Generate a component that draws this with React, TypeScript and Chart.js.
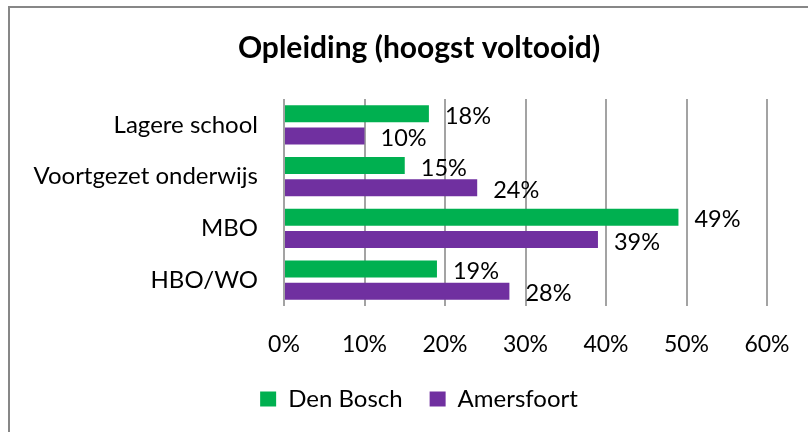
import React, { useEffect, useRef } from "react";
import { Chart, registerables } from "chart.js";

Chart.register(...registerables);

const categories = ["Lagere school", "Voortgezet onderwijs", "MBO", "HBO/WO"];
const denBosch = [18, 15, 49, 19];
const amersfoort = [10, 24, 39, 28];
const seriesNames = ["Den Bosch", "Amersfoort"];
const xTicks = [0, 10, 20, 30, 40, 50, 60];

const FONT = "Lato, 'Open Sans', sans-serif";
const GREEN = "#00B050";
const PURPLE = "#7030A0";
const GRID = "#a3a3a3";

// Writes each bar's percentage just past the bar's end.
const valueLabels = {
  id: "valueLabels",
  afterDatasetsDraw(chart: any) {
    const ctx = chart.ctx;
    ctx.save();
    ctx.font = `23.5px ${FONT}`;
    ctx.fillStyle = "#000";
    ctx.textAlign = "left";
    ctx.textBaseline = "middle";
    chart.data.datasets.forEach((ds: any, di: number) => {
      const meta = chart.getDatasetMeta(di);
      meta.data.forEach((bar: any, i: number) => {
        ctx.fillText(`${ds.data[i]}%`, bar.x + 16, bar.y + 2.5);
      });
    });
    ctx.restore();
  },
};

export default function App() {
  const ref = useRef<HTMLCanvasElement>(null);

  useEffect(() => {
    if (!ref.current) return;
    const chart = new Chart(ref.current, {
      type: "bar",
      data: {
        labels: categories,
        datasets: [
          {
            label: seriesNames[0],
            data: denBosch,
            backgroundColor: GREEN,
            categoryPercentage: 0.854,
            barPercentage: 0.773,
          },
          {
            label: seriesNames[1],
            data: amersfoort,
            backgroundColor: PURPLE,
            categoryPercentage: 0.854,
            barPercentage: 0.773,
          },
        ],
      },
      options: {
        indexAxis: "y",
        responsive: false,
        animation: false,
        layout: { padding: { left: 18, right: 18, top: 0, bottom: 27 } },
        scales: {
          x: {
            min: xTicks[0],
            max: xTicks[xTicks.length - 1],
            afterBuildTicks(scale: any) {
              scale.ticks = xTicks.map((v) => ({ value: v }));
            },
            afterFit(scale: any) {
              scale.height = 54;
            },
            grid: { color: GRID, lineWidth: 2, drawTicks: false },
            border: { display: false },
            ticks: {
              padding: 25,
              color: "#000",
              font: { family: FONT, size: 23 },
              callback: (v: any) => `${v}%`,
            },
          },
          y: {
            afterFit(scale: any) {
              scale.width = 256;
            },
            grid: { display: false, drawTicks: false },
            border: { display: false },
            ticks: {
              padding: 26,
              color: "#000",
              font: { family: FONT, size: 24 },
            },
          },
          // empty right-hand gutter so the plot ends where the frame leaves room
          gutter: {
            type: "linear",
            axis: "y",
            position: "right",
            afterFit(scale: any) {
              scale.width = 43;
            },
            grid: { display: false, drawTicks: false },
            border: { display: false },
            ticks: { display: false },
          },
        },
        plugins: {
          title: {
            display: true,
            text: "Opleiding (hoogst voltooid)",
            color: "#000",
            font: { family: FONT, size: 30, weight: "bold" },
            padding: { top: 22, bottom: 33 },
          },
          legend: {
            position: "bottom",
            labels: {
              boxWidth: 16,
              boxHeight: 15,
              padding: 27,
              color: "#000",
              font: { family: FONT, size: 24 },
            },
          },
          tooltip: { enabled: false },
        },
      },
      plugins: [valueLabels],
    });
    return () => chart.destroy();
  }, []);

  return (
    <div
      style={{
        position: "fixed",
        left: 0,
        top: 0,
        width: 808,
        height: 432,
        overflow: "hidden",
        background: "#fff",
      }}
    >
      <div
        style={{
          position: "absolute",
          left: 8,
          top: 6,
          width: 840,
          height: 460,
          borderLeft: "2px solid #878787",
          borderTop: "2px solid #878787",
        }}
      >
        <canvas
          ref={ref}
          width={818}
          height={440}
          style={{ position: "absolute", left: 0, top: 0, width: 818, height: 440 }}
        />
      </div>
    </div>
  );
}
